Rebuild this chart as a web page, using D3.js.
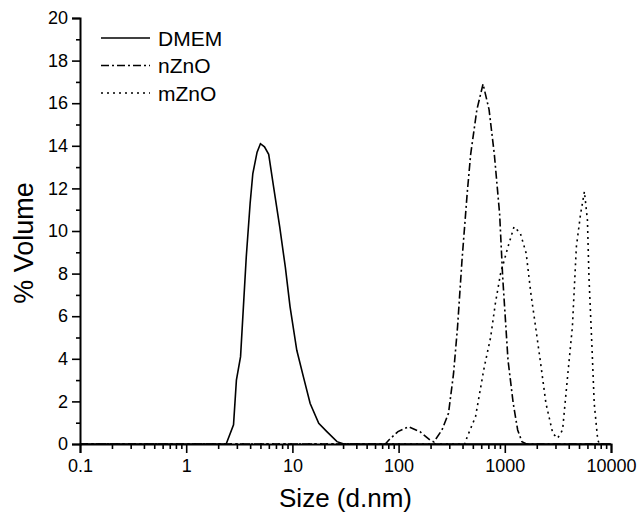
<!DOCTYPE html>
<html>
<head>
<meta charset="utf-8">
<script src="https://cdn.jsdelivr.net/npm/d3@7"></script>
<style>
  body { margin: 0; background: #fff; }
  text { font-family: "Liberation Sans", Arial, sans-serif; fill: #000; }
</style>
</head>
<body>
<svg id="chart"></svg>
<script>
// data (size in d.nm, % volume)
var dmemSize = [0.1, 2.38, 2.79, 2.97, 3.25, 3.49, 3.68, 4.0, 4.24, 4.65, 5.0, 5.46, 5.98, 6.64, 7.59, 8.58, 9.5, 11.0, 12.7, 14.7, 17.7, 21.1, 26.3, 30.5, 10000];
var dmemVal  = [0, 0, 0.9, 3.0, 4.1, 6.8, 8.8, 11.3, 12.7, 13.7, 14.1, 13.95, 13.6, 12.1, 10.2, 8.3, 6.45, 4.4, 3.15, 1.9, 0.97, 0.58, 0.11, 0, 0];

var nzSize = [0.1, 75, 81, 98.6, 124, 159, 197, 215, 256, 295, 329, 359, 395, 443, 477, 546, 624, 711, 797, 894, 955, 1072, 1200, 1322, 1450, 1600, 10000];
var nzVal  = [0, 0, 0.19, 0.58, 0.81, 0.58, 0.19, 0.1, 0.66, 1.44, 3.3, 5.5, 8.6, 11.8, 13.6, 15.7, 16.9, 15.7, 13.6, 10.8, 7.85, 3.94, 1.91, 0.66, 0.11, 0, 0];

var mzSize = [0.1, 420, 443, 530, 640, 735, 815, 912, 1072, 1222, 1400, 1590, 1760, 1950, 2200, 2440, 2830, 3140, 3500, 3900, 4330, 4720, 5170, 5620, 6000, 6200, 6600, 6950, 7500, 7800, 10000];
var mzVal  = [0, 0, 0.34, 1.28, 3.6, 5.0, 6.6, 8.0, 9.26, 10.2, 9.9, 8.95, 7.07, 5.5, 3.6, 1.91, 0.5, 0.27, 0.66, 3.16, 5.5, 9.26, 10.8, 11.85, 10.5, 7.85, 4.7, 1.91, 0.19, 0, 0];

var seriesNames = ["DMEM", "nZnO", "mZnO"];
var xMajor = [0.1, 1, 10, 100, 1000, 10000];
var xTickLabels = ["0.1", "1", "10", "100", "1000", "10000"];
var yMajor = [0, 2, 4, 6, 8, 10, 12, 14, 16, 18, 20];

var width = 638, height = 514;
var plotLeft = 80, plotRight = 611, plotTop = 18, plotBottom = 444;

var svg = d3.select("#chart").attr("width", width).attr("height", height);

var x = d3.scaleLog().domain([0.1, 10000]).range([plotLeft, plotRight]);
var y = d3.scaleLinear().domain([0, 20]).range([plotBottom, plotTop]);

// minor ticks
var xMinor = [];
xMajor.slice(0, -1).forEach(function(d) {
  for (var k = 2; k <= 9; k++) xMinor.push(d * k);
});
var yMinor = d3.range(1, 20, 2);

var series = [
  { name: seriesNames[0], size: dmemSize, val: dmemVal, dash: null },
  { name: seriesNames[1], size: nzSize, val: nzVal, dash: "8,3,2,3" },
  { name: seriesNames[2], size: mzSize, val: mzVal, dash: "2,4" }
];

var line = d3.line()
  .x(function(d) { return x(d[0]); })
  .y(function(d) { return y(d[1]); });

series.forEach(function(s) {
  var pts = s.size.map(function(v, i) { return [v, s.val[i]]; });
  svg.append("path")
    .datum(pts)
    .attr("d", line)
    .attr("fill", "none")
    .attr("stroke", "#000")
    .attr("stroke-width", 1.6)
    .attr("stroke-dasharray", s.dash);
});

// axes
var gx = svg.append("g").attr("transform", "translate(0," + plotBottom + ")");
gx.call(d3.axisBottom(x).tickValues(xMinor).tickSize(5).tickFormat(""));
var gxMaj = svg.append("g").attr("transform", "translate(0," + plotBottom + ")");
gxMaj.call(d3.axisBottom(x).tickValues(xMajor).tickSize(9).tickPadding(6)
  .tickFormat(function(d, i) { return xTickLabels[i]; }));

var gy = svg.append("g").attr("transform", "translate(" + plotLeft + ",0)");
gy.call(d3.axisLeft(y).tickValues(yMinor).tickSize(4).tickFormat(""));
var gyMaj = svg.append("g").attr("transform", "translate(" + plotLeft + ",0)");
gyMaj.call(d3.axisLeft(y).tickValues(yMajor).tickSize(8).tickPadding(4));

svg.selectAll(".domain").attr("stroke", "#000").attr("stroke-width", 2);
gx.select(".domain").remove();
gy.select(".domain").remove();
svg.selectAll(".tick line").attr("stroke", "#000").attr("stroke-width", 1.6);
svg.selectAll(".tick text")
  .style("font-family", "'Liberation Sans', Arial, sans-serif")
  .style("font-size", "18px")
  .attr("fill", "#000");

// axis titles
svg.append("text")
  .attr("x", (plotLeft + plotRight) / 2)
  .attr("y", 507)
  .attr("text-anchor", "middle")
  .style("font-size", "26px")
  .text("Size (d.nm)");

svg.append("text")
  .attr("transform", "translate(33,243) rotate(-90)")
  .attr("text-anchor", "middle")
  .style("font-size", "27px")
  .text("% Volume");

// legend
var legend = svg.append("g");
series.forEach(function(s, i) {
  var ly = 38 + i * 27.5;
  legend.append("line")
    .attr("x1", 101).attr("x2", 150)
    .attr("y1", ly).attr("y2", ly)
    .attr("stroke", "#000")
    .attr("stroke-width", 1.6)
    .attr("stroke-dasharray", s.dash);
  legend.append("text")
    .attr("x", 158).attr("y", ly)
    .attr("dy", "0.36em")
    .style("font-size", "21px")
    .text(s.name);
});
</script>
</body>
</html>
